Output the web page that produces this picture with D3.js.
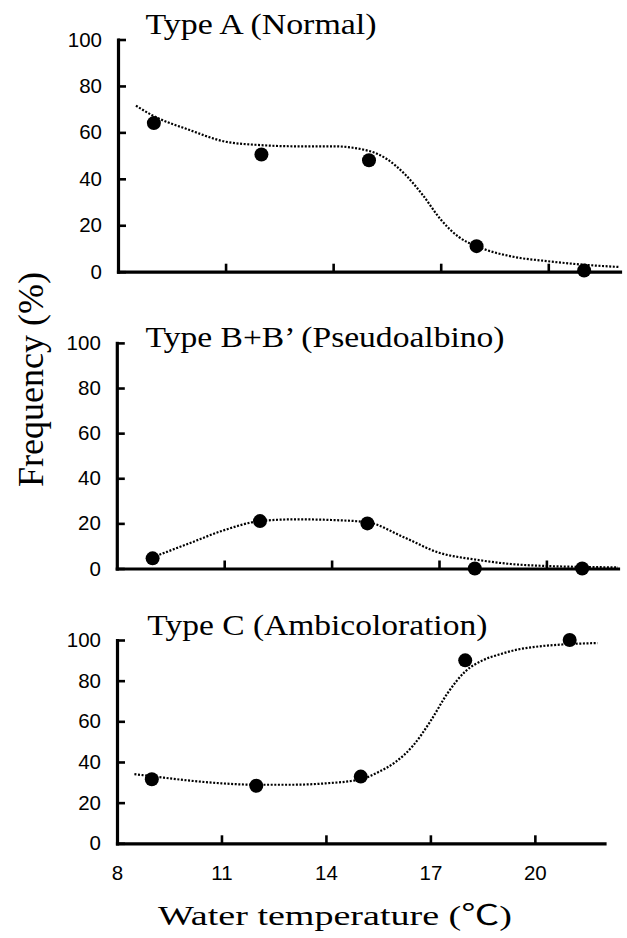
<!DOCTYPE html>
<html><head><meta charset="utf-8">
<script src="https://cdn.jsdelivr.net/npm/d3@7"></script>
<style>body{margin:0;background:#fff}svg{display:block}</style>
</head><body><svg id="c" width="627" height="938"></svg>
<script>
// ---- data ----
const temps = [9, 12, 15, 18, 21];
const typeA = [64, 50.5, 48, 11, 0.5];
const typeB = [4.5, 21, 20, 0, 0];
const typeC = [31.5, 28.3, 32.8, 90, 100];

const fitXA = [8.5, 9, 10, 11, 12, 13, 14, 15, 15.5, 16, 16.5, 17, 17.5, 18, 19, 20, 21, 22];
const fitA  = [71.5, 67, 61, 56, 54.5, 54, 54, 52, 48.5, 42, 33, 22.5, 15, 11, 6.5, 4.5, 3, 2];
const fitXB = [9, 10, 11, 12, 13, 14, 15, 16, 17, 18, 19, 20, 21, 22];
const fitB  = [5, 11, 17, 21, 21.8, 21.5, 20.5, 14, 7, 4, 2, 1.1, 0.7, 0.5];
const fitXC = [8.5, 9, 10, 11, 12, 13, 14, 15, 15.5, 16, 16.5, 17, 17.5, 18, 18.5, 19, 19.5, 20, 21, 21.8];
const fitC  = [34, 33, 31, 29.5, 28.8, 28.8, 29.5, 31.5, 35, 40, 48, 60, 74, 84.5, 90, 93, 95.3, 96.6, 98, 98.5];

const xTicks = [8, 11, 14, 17, 20];
const yTicks = [0, 20, 40, 60, 80, 100];
const titles = ["Type A (Normal)", "Type B+B’ (Pseudoalbino)", "Type C (Ambicoloration)"];
const yLabel = "Frequency (%)";
const xLabel = "Water temperature (℃)";

// ---- layout ----
const layout = [
  {x0: 118, x1: 620, yTop: 39.5, yBot: 271.7, tx: 145.5, ty: 34, tw: 231, labels: false},
  {x0: 116.8, x1: 618, yTop: 342.9, yBot: 568.5, tx: 145.5, ty: 347, tw: 359, labels: false},
  {x0: 117, x1: 604.5, yTop: 640, yBot: 843.3, tx: 147.3, ty: 635, tw: 340, labels: true}
];
const series = [
  {pts: typeA, fx: fitXA, fy: fitA},
  {pts: typeB, fx: fitXB, fy: fitB},
  {pts: typeC, fx: fitXC, fy: fitC}
];

const svg = d3.select("#c");
const serif = "'Liberation Serif','Times New Roman','Noto Sans CJK JP',serif";
const sans = "'Liberation Sans',Arial,sans-serif";

layout.forEach((L, i) => {
  const x = d3.scaleLinear().domain([8, 22]).range([L.x0, L.x1]);
  const y = d3.scaleLinear().domain([0, 100]).range([L.yBot, L.yTop]);
  const g = svg.append("g");

  // y axis
  const ya = g.append("g").attr("transform", `translate(${L.x0},0)`)
    .call(d3.axisLeft(y).tickValues(yTicks).tickSize(-8).tickSizeOuter(0).tickPadding(16));
  // x axis
  const xa = g.append("g").attr("transform", `translate(0,${L.yBot})`)
    .call(d3.axisBottom(x).tickValues(xTicks).tickSize(-8).tickSizeOuter(0).tickPadding(22)
      .tickFormat(L.labels ? d3.format("d") : () => ""));
  [ya, xa].forEach(a => {
    a.select(".domain").attr("stroke", "#000").attr("stroke-width", 3.2).attr("stroke-linecap", "square");
    a.selectAll(".tick line").attr("stroke", "#000").attr("stroke-width", 2.6);
    a.selectAll(".tick text").attr("fill", "#000").style("font-family", sans).style("font-size", "20.5px");
  });
  // the x-axis tick at 8 coincides with the y axis
  xa.selectAll(".tick").filter(d => d === 8).select("line").remove();

  // fitted dotted curve
  const s = series[i];
  const line = d3.line().x(d => x(d[0])).y(d => y(d[1])).curve(d3.curveMonotoneX);
  g.append("path").datum(s.fx.map((v, k) => [v, s.fy[k]]))
    .attr("d", line).attr("fill", "none").attr("stroke", "#000")
    .attr("stroke-width", 2.2).attr("stroke-dasharray", "2,1.6");

  // points
  g.selectAll("circle").data(temps.map((t, k) => [t, s.pts[k]])).join("circle")
    .attr("cx", d => x(d[0])).attr("cy", d => y(d[1])).attr("r", 7).attr("fill", "#000");

  // title
  g.append("text").attr("x", L.tx).attr("y", L.ty).text(titles[i])
    .style("font-family", serif).style("font-size", "30px").attr("fill", "#000")
    .attr("textLength", L.tw).attr("lengthAdjust", "spacingAndGlyphs");
});

// axis titles
svg.append("text").attr("transform", "translate(43,379.5) rotate(-90)")
  .attr("text-anchor", "middle").text(yLabel)
  .style("font-family", serif).style("font-size", "35px").attr("fill", "#000")
  .attr("textLength", 215).attr("lengthAdjust", "spacingAndGlyphs");
svg.append("text").attr("x", 158).attr("y", 925).text(xLabel)
  .style("font-family", serif).style("font-size", "28px").attr("fill", "#000")
  .attr("textLength", 354).attr("lengthAdjust", "spacingAndGlyphs");
</script></body></html>
